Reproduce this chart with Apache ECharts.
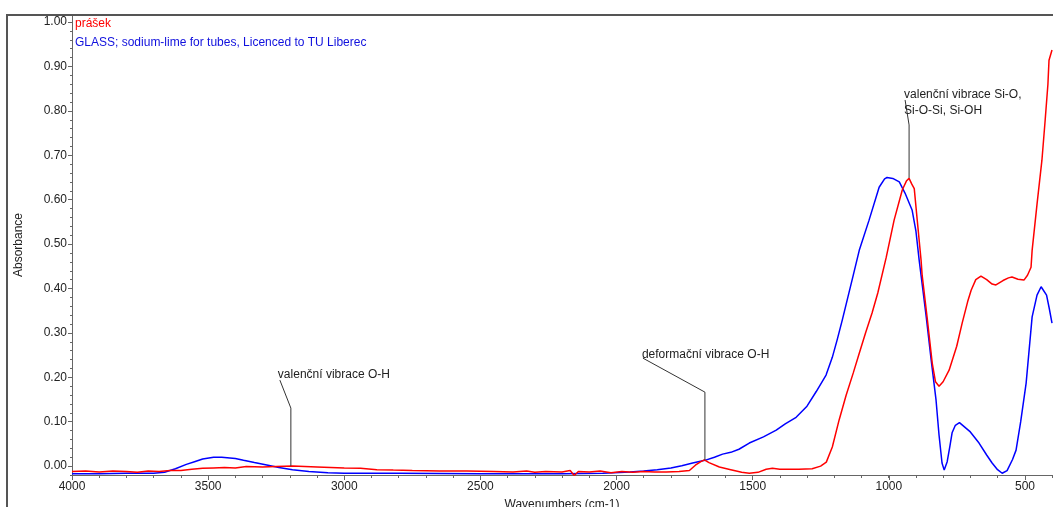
<!DOCTYPE html>
<html><head><meta charset="utf-8">
<script src="https://cdn.jsdelivr.net/npm/echarts@6/dist/echarts.min.js"></script>
<style>html,body{margin:0;padding:0;background:#fff}#c{width:1053px;height:507px}</style>
</head><body><div id="c"></div>
<script>
// ---------- DATA ----------
const seriesNames = ['prášek', 'GLASS; sodium-lime for tubes, Licenced to TU Liberec'];
const xName = 'Wavenumbers (cm-1)';
const yName = 'Absorbance';

const redWn = [4000,3950,3900,3850,3800,3760,3720,3680,3640,3600,3560,3520,3480,3440,3400,3360,3300,3250,3190,3100,3000,2940,2880,2820,2750,2650,2550,2450,2380,2330,2300,2260,2200,2170,2155,2140,2100,2060,2020,1980,1940,1900,1860,1817,1770,1732,1710,1690,1677,1660,1622,1580,1540,1512,1480,1450,1427,1400,1376,1330,1281,1250,1229,1207,1182,1156,1130,1108,1085,1061,1040,1009,980,950,935,925,915,906,896,881,877,859,840,828,815,800,778,750,730,710,697,680,661,640,620,606,580,560,547,525,503,490,477,473,455,437,425,415,411,400];
const redAbs = [-0.012,-0.011,-0.013,-0.011,-0.012,-0.014,-0.011,-0.012,-0.010,-0.010,-0.007,-0.005,-0.004,-0.003,-0.004,-0.001,-0.002,-0.001,0.000,-0.002,-0.004,-0.005,-0.008,-0.009,-0.010,-0.011,-0.011,-0.012,-0.013,-0.011,-0.014,-0.012,-0.013,-0.010,-0.021,-0.012,-0.013,-0.011,-0.015,-0.012,-0.014,-0.012,-0.013,-0.013,-0.012,-0.010,0.002,0.010,0.014,0.008,-0.002,-0.008,-0.014,-0.016,-0.014,-0.007,-0.005,-0.007,-0.007,-0.007,-0.006,0.000,0.009,0.043,0.104,0.160,0.210,0.254,0.300,0.345,0.390,0.470,0.554,0.622,0.642,0.648,0.635,0.625,0.560,0.464,0.430,0.336,0.232,0.190,0.180,0.190,0.216,0.270,0.322,0.370,0.396,0.420,0.428,0.420,0.410,0.408,0.418,0.424,0.426,0.421,0.419,0.430,0.448,0.486,0.590,0.689,0.780,0.860,0.914,0.937];

const blueWn = [4000,3900,3800,3700,3660,3620,3580,3550,3520,3480,3450,3400,3370,3330,3280,3240,3190,3130,3060,3000,2800,2500,2200,2050,1950,1900,1850,1800,1760,1720,1675,1640,1610,1580,1550,1512,1460,1413,1380,1340,1300,1266,1230,1207,1189,1170,1150,1130,1108,1072,1035,1015,1006,985,961,940,914,900,888,875,862,844,826,815,804,796,785,775,767,755,740,734,700,668,640,620,600,583,565,545,532,515,495,473,455,440,433,420,410,400];
const blueAbs = [-0.017,-0.017,-0.016,-0.016,-0.014,-0.006,0.004,0.010,0.016,0.020,0.020,0.017,0.013,0.008,0.002,-0.003,-0.008,-0.012,-0.015,-0.016,-0.016,-0.017,-0.017,-0.016,-0.013,-0.011,-0.008,-0.004,0.001,0.007,0.013,0.020,0.027,0.031,0.038,0.052,0.066,0.081,0.095,0.110,0.135,0.168,0.205,0.245,0.285,0.330,0.380,0.430,0.486,0.554,0.628,0.647,0.650,0.648,0.640,0.615,0.577,0.530,0.464,0.400,0.336,0.240,0.149,0.070,0.007,-0.009,0.010,0.045,0.075,0.092,0.098,0.097,0.077,0.052,0.025,0.007,-0.008,-0.016,-0.010,0.015,0.036,0.100,0.187,0.336,0.385,0.404,0.405,0.385,0.355,0.322];

const annotTexts = ['valenční vibrace O-H', 'deformační vibrace O-H', 'valenční vibrace Si-O,\nSi-O-Si, Si-OH'];
const annotWn = [3196, 1675, 925];
const annotAbs = [0.000, 0.0135, 0.649];

// ---------- LAYOUT / STYLE ----------
const annotLayout = [
  {up: 58, slant: [-11, -86], text: [-13, -99]},
  {up: 68, slant: [-62, -102], text: [-63, -113]},
  {up: 53, slant: [-4, -78], text: [-5, -91]}
];
const FONT = '"Liberation Sans", Arial, sans-serif';
const AX = '#666';
const TXT = '#222';

const toPairs = (xs, ys) => xs.map((x, i) => [x, ys[i]]);

const chart = echarts.init(document.getElementById('c'));
chart.setOption({
  animation: false,
  textStyle: {fontFamily: FONT},
  grid: [
    {left: 72, right: 1, top: 15, bottom: 32, containLabel: false, outerBoundsMode: 'none'},
    {left: 72, right: 28, top: 22, bottom: 41, containLabel: false, outerBoundsMode: 'none'}
  ],
  legend: {
    orient: 'vertical', left: 65, top: 13, itemGap: 7, itemWidth: 0, itemHeight: 0,
    icon: 'rect', selectedMode: false,
    textStyle: {fontSize: 12, fontFamily: FONT},
    data: [
      {name: seriesNames[0], textStyle: {color: '#ff0000'}},
      {name: seriesNames[1], textStyle: {color: '#1010dd'}}
    ]
  },
  xAxis: [
    {type: 'value', gridIndex: 0, inverse: true, min: 400, max: 4000, interval: 100,
     axisLine: {show: true, onZero: false, lineStyle: {color: AX, width: 1}},
     axisTick: {show: true, length: 3, lineStyle: {color: AX}},
     axisLabel: {show: false}, splitLine: {show: false},
     name: xName, nameLocation: 'middle', nameGap: 24,
     nameTextStyle: {color: TXT, fontSize: 12, fontFamily: FONT}},
    {type: 'value', gridIndex: 1, inverse: true, min: 500, max: 4000, interval: 500, offset: 9,
     axisLine: {show: false, onZero: false},
     axisTick: {show: true, length: 5, lineStyle: {color: AX}},
     axisLabel: {show: true, color: TXT, fontSize: 12, margin: 6, fontFamily: FONT,
                 formatter: v => String(v)},
     splitLine: {show: false}}
  ],
  yAxis: [
    {type: 'value', gridIndex: 0, min: -0.02, max: 1.016, interval: 0.02,
     axisLine: {show: true, onZero: false, lineStyle: {color: AX, width: 1}},
     axisTick: {show: true, length: 2, lineStyle: {color: AX}},
     axisLabel: {show: false}, splitLine: {show: false},
     name: yName, nameLocation: 'middle', nameRotate: 90, nameGap: 47,
     nameTextStyle: {color: TXT, fontSize: 12, fontFamily: FONT}},
    {type: 'value', gridIndex: 1, min: 0, max: 1, interval: 0.1,
     axisLine: {show: false, onZero: false},
     axisTick: {show: true, length: 4, lineStyle: {color: AX}},
     axisLabel: {show: true, color: TXT, fontSize: 12, margin: 5, fontFamily: FONT,
                 formatter: v => v.toFixed(2)},
     splitLine: {show: false}}
  ],
  series: [
    {name: seriesNames[1], type: 'line', xAxisIndex: 0, yAxisIndex: 0, showSymbol: false,
     data: toPairs(blueWn, blueAbs), lineStyle: {color: '#0000ff', width: 1.5}, itemStyle: {color: '#0000ff'}},
    {name: seriesNames[0], type: 'line', xAxisIndex: 0, yAxisIndex: 0, showSymbol: false,
     data: toPairs(redWn, redAbs), lineStyle: {color: '#ff0000', width: 1.5}, itemStyle: {color: '#ff0000'}}
  ]
});

// frame + annotations anchored at data coordinates
const g = [{type: 'rect', z: 100, silent: true,
  shape: {x: 7, y: 15, width: 1200, height: 600},
  style: {fill: null, stroke: '#555', lineWidth: 2}}];
annotTexts.forEach((t, i) => {
  const p = chart.convertToPixel({xAxisIndex: 0, yAxisIndex: 0}, [annotWn[i], annotAbs[i]]);
  const L = annotLayout[i];
  g.push({type: 'polyline', z: 50, silent: true,
    shape: {points: [[p[0], p[1]], [p[0], p[1] - L.up], [p[0] + L.slant[0], p[1] + L.slant[1]]]},
    style: {stroke: '#333', lineWidth: 1, fill: null}});
  g.push({type: 'text', z: 50, silent: true, x: p[0] + L.text[0], y: p[1] + L.text[1],
    style: {text: t, fill: TXT, font: '12px ' + FONT, lineHeight: 16, textVerticalAlign: 'top'}});
});
chart.setOption({graphic: g});
</script></body></html>
